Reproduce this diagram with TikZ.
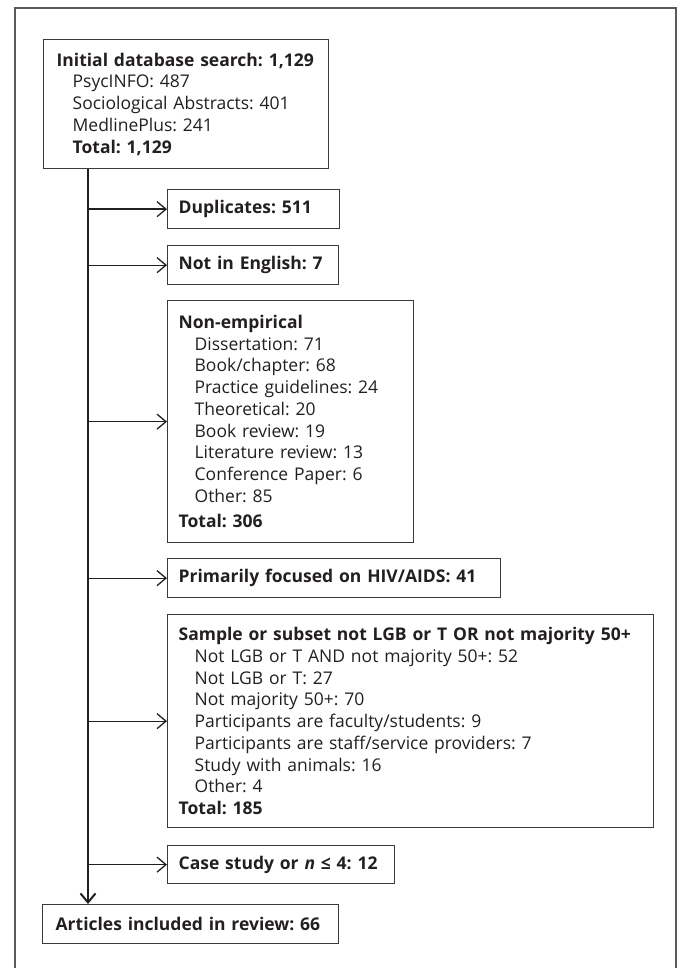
\documentclass[tikz,border=0pt]{standalone}
\usepackage{fontspec}
\setmainfont{Open Sans}
\usepackage{tikz}
\usetikzlibrary{arrows.meta,calc,positioning}

\definecolor{txtgray}{HTML}{231F20}
\definecolor{boxgray}{HTML}{3A3A3A}
\definecolor{framegray}{HTML}{5A5A5A}

\tikzset{
  box/.style={draw=boxgray,line width=1.3pt,anchor=north west,align=left,
    inner xsep=11pt,inner ysep=0pt,text=txtgray,
    font=\fontsize{17.5}{21.7}\selectfont},
  branch/.style={->,line width=1.3pt,draw=txtgray},
}
\newcommand{\sub}{\hspace*{16pt}}
\newcommand{\hd}[1]{\mbox{\bfseries #1}}
\frenchspacing

\begin{document}
\begin{tikzpicture}[x=1pt,y=-1pt,>={Straight Barb[length=9pt,width=15pt]}]
    \useasboundingbox (0,0) rectangle (683,968);
    \draw[framegray,line width=2pt] (15,980) -- (15,8) -- (676,8) -- (676,980);

    \node[box,inner xsep=13pt,text width=259pt,minimum height=129pt] (init) at (43,39)
      {\hd{Initial database search: 1,129}\\
       \sub PsycINFO: 487\\
       \sub Sociological Abstracts: 401\\
       \sub MedlinePlus: 241\\
       \sub\hd{Total: 1,129}};

    \node[box,text width=150pt,minimum height=39pt] (dup) at (167,189)
      {\hd{Duplicates: 511}};
    \node[box,text width=149pt,minimum height=39pt] (eng) at (167,245)
      {\hd{Not in English: 7}};

    \node[box,text width=224pt,minimum height=242pt] (nonemp) at (167,300)
      {\hd{Non-empirical}\\
       \sub Dissertation: 71\\
       \sub Book/chapter: 68\\
       \sub Practice guidelines: 24\\
       \sub Theoretical: 20\\
       \sub Book review: 19\\
       \sub Literature review: 13\\
       \sub Conference Paper: 6\\
       \sub Other: 85\\[4pt]
       \hd{Total: 306}};

    \node[box,text width=311pt,minimum height=39pt] (hiv) at (167,558)
      {\hd{Primarily focused on HIV/AIDS: 41}};

    \node[box,text width=464pt,minimum height=213pt] (sample) at (167,614)
      {\hd{Sample or subset not LGB or T OR not majority 50+}\\
       \sub Not LGB or T AND not majority 50+: 52\\
       \sub Not LGB or T: 27\\
       \sub Not majority 50+: 70\\
       \sub Participants are faculty/students: 9\\
       \sub Participants are staff/service providers: 7\\
       \sub Study with animals: 16\\
       \sub Other: 4\\
       \hd{Total: 185}};

    \node[box,text width=205pt,minimum height=38pt] (case) at (167,845)
      {\hd{Case study or \textit{n} ≤ 4: 12}};

    \node[box,inner xsep=13pt,text width=270pt,minimum height=39pt] (art) at (42,904)
      {\hd{Articles included in review: 66}};

    % main line down the left
    \coordinate (trunk) at (88,0);
    \draw[branch,line width=2pt] (init.south -| trunk) -- (art.north -| trunk);
    \foreach \b in {dup,eng,nonemp,hiv,sample,case}
      \draw[branch] (\b.west -| trunk) -- (\b.west);
\end{tikzpicture}
\end{document}
